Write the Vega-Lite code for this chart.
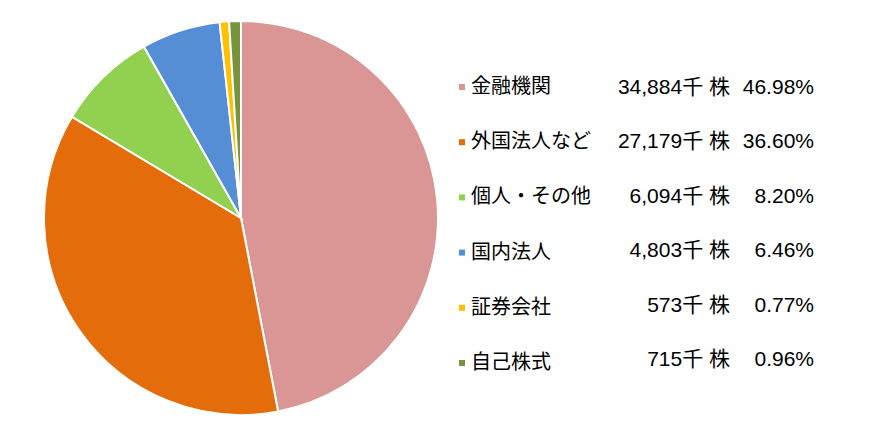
{
  "$schema": "https://vega.github.io/schema/vega-lite/v6.json",
  "padding": {"left": 23, "top": 0, "right": 0, "bottom": 0},
  "spacing": 0,
  "background": "white",
  "config": {"view": {"stroke": null}},
  "data": {
    "values": [
      {"category": "金融機関", "value": 34884, "shares": "34,884千 株", "pct": "46.98%", "order": 1},
      {"category": "外国法人など", "value": 27179, "shares": "27,179千 株", "pct": "36.60%", "order": 2},
      {"category": "個人・その他", "value": 6094, "shares": "6,094千 株", "pct": "8.20%", "order": 3},
      {"category": "国内法人", "value": 4803, "shares": "4,803千 株", "pct": "6.46%", "order": 4},
      {"category": "証券会社", "value": 573, "shares": "573千 株", "pct": "0.77%", "order": 5},
      {"category": "自己株式", "value": 715, "shares": "715千 株", "pct": "0.96%", "order": 6}
    ]
  },
  "hconcat": [
    {
      "width": 436,
      "height": 436,
      "mark": {"type": "arc", "outerRadius": 197, "stroke": "white", "strokeWidth": 2},
      "encoding": {
        "theta": {"field": "value", "type": "quantitative", "stack": true},
        "order": {"field": "order", "sort": "ascending"},
        "color": {
          "field": "category",
          "type": "nominal",
          "legend": null,
          "scale": {
            "domain": ["金融機関", "外国法人など", "個人・その他", "国内法人", "証券会社", "自己株式"],
            "range": ["#D99694", "#E46C0A", "#92D050", "#558ED5", "#FFC000", "#77933C"]
          }
        }
      }
    },
    {
      "width": 140,
      "height": 436,
      "encoding": {
        "y": {
          "field": "category",
          "type": "nominal",
          "sort": {"field": "order"},
          "scale": {"type": "band", "paddingInner": 0, "paddingOuter": 0.95},
          "axis": null
        }
      },
      "layer": [
        {
          "mark": {"type": "square", "size": 36, "opacity": 1, "yOffset": 7},
          "encoding": {
            "x": {"value": 0},
            "color": {
              "field": "category",
              "type": "nominal",
              "legend": null,
              "scale": {
                "domain": ["金融機関", "外国法人など", "個人・その他", "国内法人", "証券会社", "自己株式"],
                "range": ["#D99694", "#E46C0A", "#92D050", "#558ED5", "#FFC000", "#77933C"]
              }
            }
          }
        },
        {
          "mark": {"type": "text", "align": "left", "baseline": "middle", "dx": 9, "dy": 7, "fontSize": 20, "font": "Noto Sans CJK JP", "color": "#000000"},
          "encoding": {
            "x": {"value": 0},
            "text": {"field": "category"}
          }
        }
      ]
    },
    {
      "width": 128,
      "height": 436,
      "mark": {"type": "text", "align": "right", "baseline": "middle", "dy": 6, "fontSize": 21, "font": "Liberation Sans, Noto Sans CJK JP", "color": "#000000"},
      "encoding": {
        "y": {
          "field": "category",
          "type": "nominal",
          "sort": {"field": "order"},
          "scale": {"type": "band", "paddingInner": 0, "paddingOuter": 1.05},
          "axis": null
        },
        "x": {"value": "width"},
        "text": {"field": "shares"}
      }
    },
    {
      "width": 84,
      "height": 436,
      "mark": {"type": "text", "align": "right", "baseline": "middle", "dy": 6, "fontSize": 21, "font": "Liberation Sans, Noto Sans CJK JP", "color": "#000000"},
      "encoding": {
        "y": {
          "field": "category",
          "type": "nominal",
          "sort": {"field": "order"},
          "scale": {"type": "band", "paddingInner": 0, "paddingOuter": 1.05},
          "axis": null
        },
        "x": {"value": "width"},
        "text": {"field": "pct"}
      }
    }
  ]
}
